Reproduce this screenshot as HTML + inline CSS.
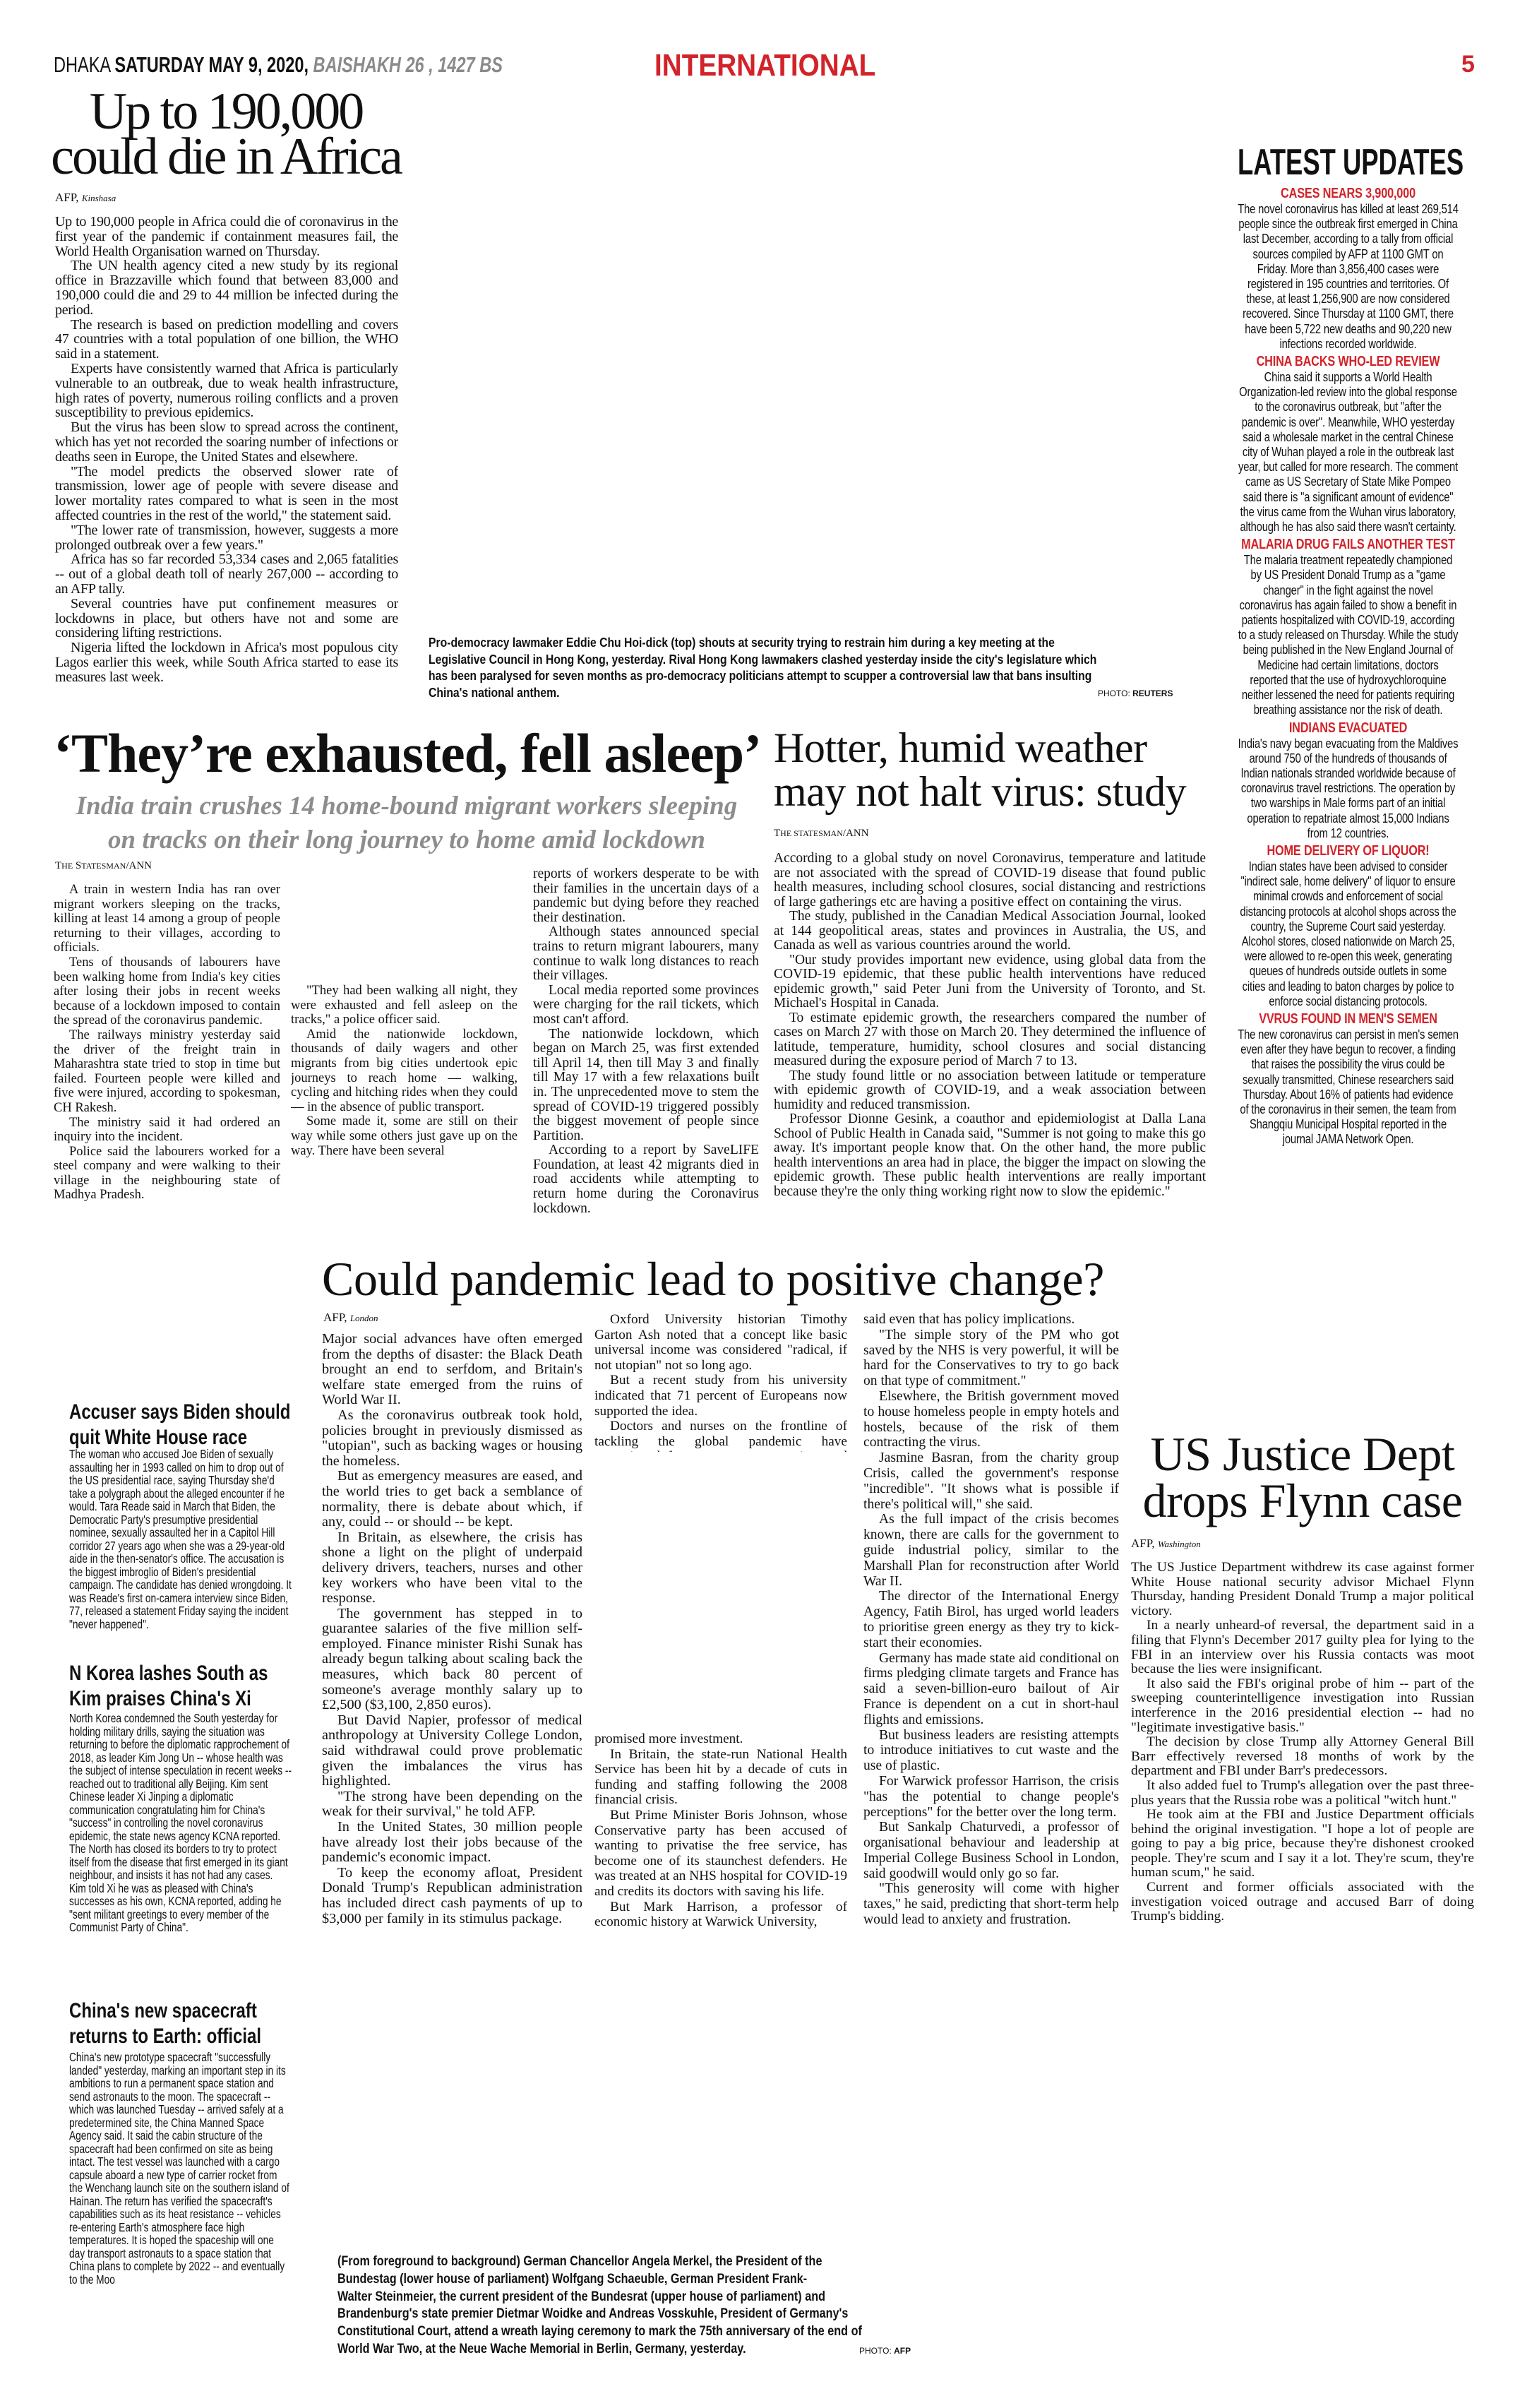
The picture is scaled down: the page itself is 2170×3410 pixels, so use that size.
<!DOCTYPE html>
<html><head><meta charset="utf-8"><style>
*{margin:0;padding:0;box-sizing:border-box}
body{width:2170px;height:3410px;background:#fff;position:relative;overflow:hidden;font-family:"Liberation Serif",serif;color:#111}
.a{position:absolute}
.sq{transform-origin:0 0}
.b{position:absolute;text-align:justify;font-size:18.5px;line-height:20.8px;overflow:hidden;hyphens:auto}
.b p{text-indent:22px}
.b p.n{text-indent:0}
.sn{font-family:"Liberation Sans",sans-serif}
.lu{position:absolute;left:1753px;width:385px;transform:scaleX(.813);transform-origin:0 0;text-align:center;font-family:"Liberation Sans",sans-serif;font-size:18.2px;line-height:21.2px;letter-spacing:-0.2px}
.lu h4{color:#d2232a;font-size:20px;line-height:24px;font-weight:bold}
.sb{position:absolute;left:98px;width:404px;transform:scaleX(.78);transform-origin:0 0;font-family:"Liberation Sans",sans-serif;font-size:17.6px;line-height:18.5px;text-align:left;overflow:hidden}
.sh{position:absolute;left:98px;white-space:nowrap;transform:scaleX(.8);transform-origin:0 0;font-family:"Liberation Sans",sans-serif;font-weight:bold;font-size:30px;line-height:36px}
.cap{position:absolute;font-family:"Liberation Sans",sans-serif;font-weight:bold;white-space:nowrap;transform:scaleX(.8);transform-origin:0 0}
.by{position:absolute;font-size:17px}
.by i{font-size:13px}
.hd{position:absolute;white-space:nowrap}
</style></head><body>

<div class="a sn sq" style="left:76px;top:74px;font-size:31px;white-space:nowrap;transform:scaleX(.76)">DHAKA <b>SATURDAY MAY 9, 2020,</b> <b><i style="color:#8a8a8a">BAISHAKH 26 , 1427 BS</i></b></div>
<div class="a sn sq" style="left:927px;top:68px;font-size:44px;font-weight:bold;color:#d2232a;transform:scaleX(.88)">INTERNATIONAL</div>
<div class="a sn" style="left:2070px;top:72px;font-size:34px;font-weight:bold;color:#d2232a">5</div>

<div class="a" style="left:50px;top:126px;width:540px;text-align:center;font-size:74px;line-height:64px;letter-spacing:-3px">Up to 190,000<br>could die in Africa</div>
<div class="by" style="left:78px;top:270px">AFP, <i>Kinshasa</i></div>
<div class="b" style="left:78px;top:304px;width:486px;height:692px;font-size:20px;letter-spacing:-0.3px">
<p class="n">Up to 190,000 people in Africa could die of coronavirus in the first year of the pandemic if containment measures fail, the World Health Organisation warned on Thursday.</p>
<p>The UN health agency cited a new study by its regional office in Brazzaville which found that between 83,000 and 190,000 could die and 29 to 44 million be infected during the period.</p>
<p>The research is based on prediction modelling and covers 47 countries with a total population of one billion, the WHO said in a statement.</p>
<p>Experts have consistently warned that Africa is particularly vulnerable to an outbreak, due to weak health infrastructure, high rates of poverty, numerous roiling conflicts and a proven susceptibility to previous epidemics.</p>
<p>But the virus has been slow to spread across the continent, which has yet not recorded the soaring number of infections or deaths seen in Europe, the United States and elsewhere.</p>
<p>"The model predicts the observed slower rate of transmission, lower age of people with severe disease and lower mortality rates compared to what is seen in the most affected countries in the rest of the world," the statement said.</p>
<p>"The lower rate of transmission, however, suggests a more prolonged outbreak over a few years."</p>
<p>Africa has so far recorded 53,334 cases and 2,065 fatalities -- out of a global death toll of nearly 267,000 -- according to an AFP tally.</p>
<p>Several countries have put confinement measures or lockdowns in place, but others have not and some are considering lifting restrictions.</p>
<p>Nigeria lifted the lockdown in Africa's most populous city Lagos earlier this week, while South Africa started to ease its measures last week.</p>
</div>

<div class="cap" style="left:607px;top:898px;font-size:18.5px;line-height:23.5px;transform:scaleX(.85)">Pro-democracy lawmaker Eddie Chu Hoi-dick (top) shouts at security trying to restrain him during a key meeting at the<br>Legislative Council in Hong Kong, yesterday. Rival Hong Kong lawmakers clashed yesterday inside the city's legislature which<br>has been paralysed for seven months as pro-democracy politicians attempt to scupper a controversial law that bans insulting<br>China's national anthem.</div>
<div class="a sn" style="left:1555px;top:975px;font-size:12px">PHOTO: <b>REUTERS</b></div>

<div class="a sn sq" style="left:1753px;top:200px;font-size:52px;font-weight:bold;white-space:nowrap;transform:scaleX(.7)">LATEST UPDATES</div>
<div class="lu" style="top:262px">
<h4>CASES NEARS 3,900,000</h4>
The novel coronavirus has killed at least 269,514 people since the outbreak first emerged in China last December, according to a tally from official sources compiled by AFP at 1100 GMT on Friday. More than 3,856,400 cases were registered in 195 countries and territories. Of these, at least 1,256,900 are now considered recovered. Since Thursday at 1100 GMT, there have been 5,722 new deaths and 90,220 new infections recorded worldwide.
<h4 style="margin-top:2px">CHINA BACKS WHO-LED REVIEW</h4>
China said it supports a World Health Organization-led review into the global response to the coronavirus outbreak, but "after the pandemic is over". Meanwhile, WHO yesterday said a wholesale market in the central Chinese city of Wuhan played a role in the outbreak last year, but called for more research. The comment came as US Secretary of State Mike Pompeo said there is "a significant amount of evidence" the virus came from the Wuhan virus laboratory, although he has also said there wasn't certainty.
<h4 style="margin-top:2px">MALARIA DRUG FAILS ANOTHER TEST</h4>
The malaria treatment repeatedly championed by US President Donald Trump as a "game changer" in the fight against the novel coronavirus has again failed to show a benefit in patients hospitalized with COVID-19, according to a study released on Thursday. While the study being published in the New England Journal of Medicine had certain limitations, doctors reported that the use of hydroxychloroquine neither lessened the need for patients requiring breathing assistance nor the risk of death.
<h4 style="margin-top:2px">INDIANS EVACUATED</h4>
India's navy began evacuating from the Maldives around 750 of the hundreds of thousands of Indian nationals stranded worldwide because of coronavirus travel restrictions. The operation by two warships in Male forms part of an initial operation to repatriate almost 15,000 Indians from 12 countries.
<h4 style="margin-top:2px">HOME DELIVERY OF LIQUOR!</h4>
Indian states have been advised to consider "indirect sale, home delivery" of liquor to ensure minimal crowds and enforcement of social distancing protocols at alcohol shops across the country, the Supreme Court said yesterday. Alcohol stores, closed nationwide on March 25, were allowed to re-open this week, generating queues of hundreds outside outlets in some cities and leading to baton charges by police to enforce social distancing protocols.
<h4 style="margin-top:2px">VVRUS FOUND IN MEN'S SEMEN</h4>
The new coronavirus can persist in men's semen even after they have begun to recover, a finding that raises the possibility the virus could be sexually transmitted, Chinese researchers said Thursday. About 16% of patients had evidence of the coronavirus in their semen, the team from Shangqiu Municipal Hospital reported in the journal JAMA Network Open.
</div>

<div class="hd" style="left:76px;top:1022px;font-size:78px;font-weight:bold;letter-spacing:-1px">‘They’re exhausted, fell asleep’</div>
<div class="a" style="left:76px;top:1118px;width:1000px;text-align:center;font-size:37px;line-height:48px;font-style:italic;font-weight:bold;color:#8d8d8d">India train crushes 14 home-bound migrant workers sleeping<br>on tracks on their long journey to home amid lockdown</div>
<div class="by" style="left:78px;top:1218px;font-size:15px">T<span style="font-size:12px">HE</span> S<span style="font-size:12px">TATESMAN</span>/ANN</div>
<div class="b" style="left:76px;top:1250px;width:321px;height:498px;font-size:18.5px;line-height:20.6px">
<p>A train in western India has ran over migrant workers sleeping on the tracks, killing at least 14 among a group of people returning to their villages, according to officials.</p>
<p>Tens of thousands of labourers have been walking home from India's key cities after losing their jobs in recent weeks because of a lockdown imposed to contain the spread of the coronavirus pandemic.</p>
<p>The railways ministry yesterday said the driver of the freight train in Maharashtra state tried to stop in time but failed. Fourteen people were killed and five were injured, according to spokesman, CH Rakesh.</p>
<p>The ministry said it had ordered an inquiry into the incident.</p>
<p>Police said the labourers worked for a steel company and were walking to their village in the neighbouring state of Madhya Pradesh.</p>
</div>
<div class="b" style="left:412px;top:1393px;width:321px;height:296px;font-size:18.5px;line-height:20.6px">
<p>"They had been walking all night, they were exhausted and fell asleep on the tracks," a police officer said.</p>
<p>Amid the nationwide lockdown, thousands of daily wagers and other migrants from big cities undertook epic journeys to reach home — walking, cycling and hitching rides when they could — in the absence of public transport.</p>
<p>Some made it, some are still on their way while some others just gave up on the way. There have been several</p>
</div>
<div class="b" style="left:755px;top:1228px;width:320px;height:520px;font-size:19.5px;line-height:20.6px">
<p class="n">reports of workers desperate to be with their families in the uncertain days of a pandemic but dying before they reached their destination.</p>
<p>Although states announced special trains to return migrant labourers, many continue to walk long distances to reach their villages.</p>
<p>Local media reported some provinces were charging for the rail tickets, which most can't afford.</p>
<p>The nationwide lockdown, which began on March 25, was first extended till April 14, then till May 3 and finally till May 17 with a few relaxations built in. The unprecedented move to stem the spread of COVID-19 triggered possibly the biggest movement of people since Partition.</p>
<p>According to a report by SaveLIFE Foundation, at least 42 migrants died in road accidents while attempting to return home during the Coronavirus lockdown.</p>
</div>

<div class="a" style="left:1096px;top:1028px;font-size:60px;line-height:62px;white-space:nowrap;letter-spacing:-0.5px">Hotter, humid weather<br>may not halt virus: study</div>
<div class="by" style="left:1096px;top:1172px;font-size:15px">T<span style="font-size:12px">HE STATESMAN</span>/ANN</div>
<div class="b" style="left:1096px;top:1206px;width:612px;height:542px;font-size:19.5px;line-height:20.5px">
<p class="n">According to a global study on novel Coronavirus, temperature and latitude are not associated with the spread of COVID-19 disease that found public health measures, including school closures, social distancing and restrictions of large gatherings etc are having a positive effect on containing the virus.</p>
<p>The study, published in the Canadian Medical Association Journal, looked at 144 geopolitical areas, states and provinces in Australia, the US, and Canada as well as various countries around the world.</p>
<p>"Our study provides important new evidence, using global data from the COVID-19 epidemic, that these public health interventions have reduced epidemic growth," said Peter Juni from the University of Toronto, and St. Michael's Hospital in Canada.</p>
<p>To estimate epidemic growth, the researchers compared the number of cases on March 27 with those on March 20. They determined the influence of latitude, temperature, humidity, school closures and social distancing measured during the exposure period of March 7 to 13.</p>
<p>The study found little or no association between latitude or temperature with epidemic growth of COVID-19, and a weak association between humidity and reduced transmission.</p>
<p>Professor Dionne Gesink, a coauthor and epidemiologist at Dalla Lana School of Public Health in Canada said, "Summer is not going to make this go away. It's important people know that. On the other hand, the more public health interventions an area had in place, the bigger the impact on slowing the epidemic growth. These public health interventions are really important because they're the only thing working right now to slow the epidemic."</p>
</div>

<div class="hd" style="left:456px;top:1772px;font-size:68px;letter-spacing:-0.3px">Could pandemic lead to positive change?</div>
<div class="by" style="left:458px;top:1856px">AFP, <i>London</i></div>
<div class="b" style="left:456px;top:1886px;width:369px;height:856px;font-size:20.3px;line-height:21.6px">
<p class="n">Major social advances have often emerged from the depths of disaster: the Black Death brought an end to serfdom, and Britain's welfare state emerged from the ruins of World War II.</p>
<p>As the coronavirus outbreak took hold, policies brought in previously dismissed as "utopian", such as backing wages or housing the homeless.</p>
<p>But as emergency measures are eased, and the world tries to get back a semblance of normality, there is debate about which, if any, could -- or should -- be kept.</p>
<p>In Britain, as elsewhere, the crisis has shone a light on the plight of underpaid delivery drivers, teachers, nurses and other key workers who have been vital to the response.</p>
<p>The government has stepped in to guarantee salaries of the five million self-employed. Finance minister Rishi Sunak has already begun talking about scaling back the measures, which back 80 percent of someone's average monthly salary up to £2,500 ($3,100, 2,850 euros).</p>
<p>But David Napier, professor of medical anthropology at University College London, said withdrawal could prove problematic given the imbalances the virus has highlighted.</p>
<p>"The strong have been depending on the weak for their survival," he told AFP.</p>
<p>In the United States, 30 million people have already lost their jobs because of the pandemic's economic impact.</p>
<p>To keep the economy afloat, President Donald Trump's Republican administration has included direct cash payments of up to $3,000 per family in its stimulus package.</p>
</div>
<div class="b" style="left:842px;top:1858px;width:358px;height:198px;font-size:19.3px;line-height:21.6px">
<p>Oxford University historian Timothy Garton Ash noted that a concept like basic universal income was considered "radical, if not utopian" not so long ago.</p>
<p>But a recent study from his university indicated that 71 percent of Europeans now supported the idea.</p>
<p>Doctors and nurses on the frontline of tackling the global pandemic have campaigned for years to get pay rises and more resources. In France, President Emmanuel Macron initially said there was no "magic money" for the sector but later</p>
</div>
<div class="b" style="left:842px;top:2452px;width:358px;height:290px;font-size:19.3px;line-height:21.6px">
<p class="n">promised more investment.</p>
<p>In Britain, the state-run National Health Service has been hit by a decade of cuts in funding and staffing following the 2008 financial crisis.</p>
<p>But Prime Minister Boris Johnson, whose Conservative party has been accused of wanting to privatise the free service, has become one of its staunchest defenders. He was treated at an NHS hospital for COVID-19 and credits its doctors with saving his life.</p>
<p>But Mark Harrison, a professor of economic history at Warwick University,</p>
</div>
<div class="b" style="left:1223px;top:1858px;width:362px;height:884px;font-size:19.6px;line-height:21.8px">
<p class="n">said even that has policy implications.</p>
<p>"The simple story of the PM who got saved by the NHS is very powerful, it will be hard for the Conservatives to try to go back on that type of commitment."</p>
<p>Elsewhere, the British government moved to house homeless people in empty hotels and hostels, because of the risk of them contracting the virus.</p>
<p>Jasmine Basran, from the charity group Crisis, called the government's response "incredible". "It shows what is possible if there's political will," she said.</p>
<p>As the full impact of the crisis becomes known, there are calls for the government to guide industrial policy, similar to the Marshall Plan for reconstruction after World War II.</p>
<p>The director of the International Energy Agency, Fatih Birol, has urged world leaders to prioritise green energy as they try to kick-start their economies.</p>
<p>Germany has made state aid conditional on firms pledging climate targets and France has said a seven-billion-euro bailout of Air France is dependent on a cut in short-haul flights and emissions.</p>
<p>But business leaders are resisting attempts to introduce initiatives to cut waste and the use of plastic.</p>
<p>For Warwick professor Harrison, the crisis "has the potential to change people's perceptions" for the better over the long term.</p>
<p>But Sankalp Chaturvedi, a professor of organisational behaviour and leadership at Imperial College Business School in London, said goodwill would only go so far.</p>
<p>"This generosity will come with higher taxes," he said, predicting that short-term help would lead to anxiety and frustration.</p>
</div>

<div class="sh" style="top:1982px">Accuser says Biden should<br>quit White House race</div>
<div class="sb" style="top:2050px;height:298px">The woman who accused Joe Biden of sexually assaulting her in 1993 called on him to drop out of the US presidential race, saying Thursday she'd take a polygraph about the alleged encounter if he would. Tara Reade said in March that Biden, the Democratic Party's presumptive presidential nominee, sexually assaulted her in a Capitol Hill corridor 27 years ago when she was a 29-year-old aide in the then-senator's office. The accusation is the biggest imbroglio of Biden's presidential campaign. The candidate has denied wrongdoing. It was Reade's first on-camera interview since Biden, 77, released a statement Friday saying the incident "never happened".</div>
<div class="sh" style="top:2352px">N Korea lashes South as<br>Kim praises China's Xi</div>
<div class="sb" style="top:2424px;height:392px">North Korea condemned the South yesterday for holding military drills, saying the situation was returning to before the diplomatic rapprochement of 2018, as leader Kim Jong Un -- whose health was the subject of intense speculation in recent weeks -- reached out to traditional ally Beijing. Kim sent Chinese leader Xi Jinping a diplomatic communication congratulating him for China's "success" in controlling the novel coronavirus epidemic, the state news agency KCNA reported. The North has closed its borders to try to protect itself from the disease that first emerged in its giant neighbour, and insists it has not had any cases. Kim told Xi he was as pleased with China's successes as his own, KCNA reported, adding he "sent militant greetings to every member of the Communist Party of China".</div>
<div class="sh" style="top:2830px">China's new spacecraft<br>returns to Earth: official</div>
<div class="sb" style="top:2904px;height:388px">China's new prototype spacecraft "successfully landed" yesterday, marking an important step in its ambitions to run a permanent space station and send astronauts to the moon. The spacecraft -- which was launched Tuesday -- arrived safely at a predetermined site, the China Manned Space Agency said. It said the cabin structure of the spacecraft had been confirmed on site as being intact. The test vessel was launched with a cargo capsule aboard a new type of carrier rocket from the Wenchang launch site on the southern island of Hainan. The return has verified the spacecraft's capabilities such as its heat resistance -- vehicles re-entering Earth's atmosphere face high temperatures. It is hoped the spaceship will one day transport astronauts to a space station that China plans to complete by 2022 -- and eventually to the Moo</div>

<div class="a" style="left:1590px;top:2026px;width:510px;text-align:center;font-size:68px;line-height:66px;letter-spacing:-0.5px">US Justice Dept<br>drops Flynn case</div>
<div class="by" style="left:1602px;top:2176px">AFP, <i>Washington</i></div>
<div class="b" style="left:1602px;top:2210px;width:486px;height:532px;font-size:19.4px;line-height:20.6px">
<p class="n">The US Justice Department withdrew its case against former White House national security advisor Michael Flynn Thursday, handing President Donald Trump a major political victory.</p>
<p>In a nearly unheard-of reversal, the department said in a filing that Flynn's December 2017 guilty plea for lying to the FBI in an interview over his Russia contacts was moot because the lies were insignificant.</p>
<p>It also said the FBI's original probe of him -- part of the sweeping counterintelligence investigation into Russian interference in the 2016 presidential election -- had no "legitimate investigative basis."</p>
<p>The decision by close Trump ally Attorney General Bill Barr effectively reversed 18 months of work by the department and FBI under Barr's predecessors.</p>
<p>It also added fuel to Trump's allegation over the past three-plus years that the Russia robe was a political "witch hunt."</p>
<p>He took aim at the FBI and Justice Department officials behind the original investigation. "I hope a lot of people are going to pay a big price, because they're dishonest crooked people. They're scum and I say it a lot. They're scum, they're human scum," he said.</p>
<p>Current and former officials associated with the investigation voiced outrage and accused Barr of doing Trump's bidding.</p>
</div>

<div class="cap" style="left:478px;top:3190px;font-size:19.5px;line-height:24.8px;transform:scaleX(.83)">(From foreground to background) German Chancellor Angela Merkel, the President of the<br>Bundestag (lower house of parliament) Wolfgang Schaeuble, German President Frank-<br>Walter Steinmeier, the current president of the Bundesrat (upper house of parliament) and<br>Brandenburg's state premier Dietmar Woidke and Andreas Vosskuhle, President of Germany's<br>Constitutional Court, attend a wreath laying ceremony to mark the 75th anniversary of the end of<br>World War Two, at the Neue Wache Memorial in Berlin, Germany, yesterday.</div>
<div class="a sn" style="left:1217px;top:3322px;font-size:12px">PHOTO: <b>AFP</b></div>
</body></html>
